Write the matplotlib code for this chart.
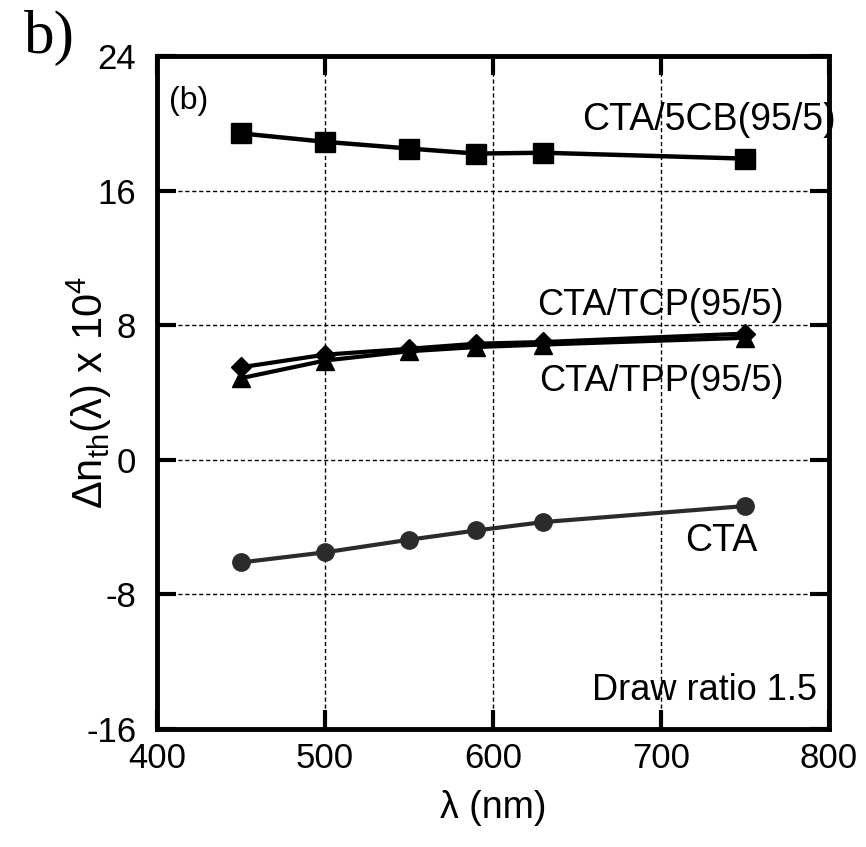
import matplotlib
matplotlib.use("Agg")
import matplotlib.pyplot as plt

plt.rcParams['font.family'] = ['Liberation Sans', 'DejaVu Sans']
plt.rcParams['mathtext.fontset'] = 'custom'
plt.rcParams['mathtext.rm'] = 'Liberation Sans'
plt.rcParams['mathtext.it'] = 'Liberation Sans'
plt.rcParams['mathtext.default'] = 'regular'
plt.rcParams['axes.unicode_minus'] = False

wavelength = [450, 500, 550, 590, 630, 750]
cta_5cb = [19.4, 18.9, 18.5, 18.2, 18.25, 17.9]
cta_tcp = [5.5, 6.25, 6.6, 6.9, 7.0, 7.5]
cta_tpp = [4.85, 5.9, 6.45, 6.7, 6.85, 7.25]
cta = [-6.1, -5.5, -4.75, -4.2, -3.7, -2.75]

x_ticks = [400, 500, 600, 700, 800]
y_ticks = [-16, -8, 0, 8, 16, 24]

fig = plt.figure(figsize=(8.66, 8.47), dpi=100)
ax = fig.add_axes([0.1813, 0.1393, 0.7760, 0.7946])

ax.plot(wavelength, cta_5cb, color='black', lw=3.2, marker='s', ms=14, zorder=3)
ax.plot(wavelength, cta_tcp, color='black', lw=3, marker='D', ms=10, zorder=3)
ax.plot(wavelength, cta_tpp, color='black', lw=3, marker='^', ms=13, zorder=3)
ax.plot(wavelength, cta, color='#2b2b2b', lw=3, marker='o', ms=12.5, zorder=3)

ax.set_xlim(400, 800)
ax.set_ylim(-16, 24)
ax.set_xticks(x_ticks)
ax.set_yticks(y_ticks)
ax.tick_params(axis='both', direction='in', length=14, width=3, labelsize=25,
               top=True, right=True)
ax.tick_params(axis='y', pad=15)
ax.tick_params(axis='x', pad=9)
ax.grid(True, color='black', ls=(0, (3, 2)), lw=1)
for s in ax.spines.values():
    s.set_linewidth(3.5)

ax.set_xlabel('λ (nm)', fontsize=27)
ax.xaxis.set_label_coords(0.5, -0.09)
ax.set_ylabel(r'$\Delta n_{th}(\lambda)$ x 10$^{4}$', fontsize=30)
ax.yaxis.set_label_coords(-0.064, 0.50)

ax.text(407, 21.3, '(b)', fontsize=23, ha='left', va='center')
ax.text(804, 20.2, 'CTA/5CB(95/5)', fontsize=27, ha='right', va='center', clip_on=False)
ax.text(773, 9.15, 'CTA/TCP(95/5)', fontsize=26, ha='right', va='center')
ax.text(773, 4.65, 'CTA/TPP(95/5)', fontsize=26, ha='right', va='center')
ax.text(736, -4.8, 'CTA', fontsize=27, ha='center', va='center')
ax.text(793, -13.7, 'Draw ratio 1.5', fontsize=26, ha='right', va='center')

fig.text(0.057, 0.955, 'b)', fontsize=44, family='Liberation Serif', ha='center', va='center')

fig.savefig('out.png', dpi=100)
